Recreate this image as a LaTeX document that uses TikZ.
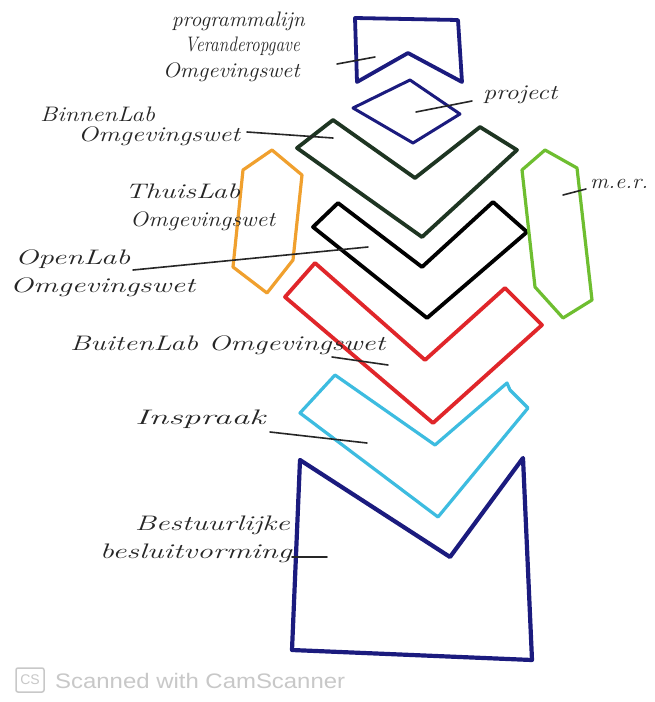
\documentclass[tikz,border=0pt]{standalone}
\usepackage{fontspec}
\usepackage{graphicx}
\newfontfamily\footfont{Liberation Sans}
\newcommand\hw[2]{\resizebox{#1}{\height}{#2}}
\definecolor{navy}{HTML}{1B1B7E}
\definecolor{dgreen}{HTML}{1E3522}
\definecolor{hred}{HTML}{E0262A}
\definecolor{lblue}{HTML}{3DBCE0}
\definecolor{horange}{HTML}{F0A02E}
\definecolor{hgreen}{HTML}{6EBE30}
\definecolor{footgray}{HTML}{C8C8C8}
\tikzset{
  outline/.style={line width=3.8pt, line join=round, line cap=round},
  lab/.style={font=\fontsize{21}{22}\selectfont\itshape, inner sep=0pt, text=black!85},
  leader/.style={line width=1.6pt, black!85, line cap=round},
}
\begin{document}
\begin{tikzpicture}[x=1pt,y=-1pt]
\useasboundingbox (0,0) rectangle (654,702);
\fill[white] (0,0) rectangle (654,702);

% shapes
\draw[outline, navy] (355,18) -- (458,20) -- (462,82) -- (408,53) -- (357,82) -- cycle;
\draw[outline, navy, line width=3pt] (353,108) -- (410,80) -- (460,114) -- (413,143) -- cycle;
\draw[outline, dgreen] (333,120) -- (415,178) -- (480,127) -- (517,150) -- (422,237) -- (297,148) -- cycle;
\draw[outline, black] (338,203) -- (422,267) -- (493,202) -- (527,232) -- (427,318) -- (313,227) -- cycle;
\draw[outline, hred] (315,263) -- (425,360) -- (505,288) -- (542,325) -- (433,423) -- (285,297) -- cycle;
\draw[outline, lblue, line width=3.2pt] (335,375) -- (435,445) -- (507,383) -- (510,390) -- (528,408) -- (438,517) -- (300,413) -- cycle;
\draw[outline, navy, line width=4.2pt] (300,460) -- (450,557) -- (523,458) -- (532,660) -- (292,650) -- cycle;
\draw[outline, horange, line width=3.2pt] (272,150) -- (302,175) -- (293,260) -- (267,293) -- (233,267) -- (243,170) -- cycle;
\draw[outline, hgreen, line width=3.2pt] (545,150) -- (577,168) -- (592,300) -- (563,318) -- (535,287) -- (522,170) -- cycle;

% labels
\node[lab, anchor=base east] (prog1) at (305,26) {\hw{133pt}{programmalijn}};
\node[lab, anchor=base east] (prog2) at (300,51) {\hw{115pt}{Veranderopgave}};
\node[lab, anchor=base east] (prog3) at (300,77) {\hw{137pt}{Omgevingswet}};
\node[lab, anchor=base west] (proj) at (483,99) {\hw{74pt}{project}};
\node[lab, anchor=base west] (bin1) at (40,121) {\hw{115pt}{BinnenLab}};
\node[lab, anchor=base west] (bin2) at (78,141) {\hw{162pt}{Omgevingswet}};
\node[lab, anchor=base west] (thuis1) at (125,198) {\hw{115pt}{ThuisLab}};
\node[lab, anchor=base west] (thuis2) at (130,226) {\hw{145pt}{Omgevingswet}};
\node[lab, anchor=base west] (open1) at (15,264) {\hw{115pt}{OpenLab}};
\node[lab, anchor=base west] (open2) at (10,292) {\hw{185pt}{Omgevingswet}};
\node[lab, anchor=base west] (buiten) at (70,350) {\hw{315pt}{BuitenLab Omgevingswet}};
\node[lab, anchor=base west] (insp) at (135,424) {\hw{130pt}{Inspraak}};
\node[lab, anchor=base east] (best1) at (290,530) {\hw{155pt}{Bestuurlijke}};
\node[lab, anchor=base east] (best2) at (292,558) {\hw{192pt}{besluitvorming}};
\node[lab, anchor=base west] (mer) at (590,188) {\hw{58pt}{m.e.r.}};

% leader lines
\coordinate (pA) at (337,64);  \coordinate (pB) at (375,57);
\coordinate (jA) at (416,112); \coordinate (jB) at (472,101);
\coordinate (bA) at (247,132); \coordinate (bB) at (333,138);
\coordinate (oA) at (133,270); \coordinate (oB) at (368,247);
\coordinate (uA) at (332,357); \coordinate (uB) at (388,365);
\coordinate (iA) at (270,432); \coordinate (iB) at (367,443);
\coordinate (sA) at (292,557); \coordinate (sB) at (327,557);
\coordinate (mA) at (563,195); \coordinate (mB) at (586,189);
\draw[leader] (pA) -- (pB);
\draw[leader] (jA) -- (jB);
\draw[leader] (bA) -- (bB);
\draw[leader] (oA) -- (oB);
\draw[leader] (uA) -- (uB);
\draw[leader] (iA) -- (iB);
\draw[leader] (sA) -- (sB);
\draw[leader] (mA) -- (mB);

% footer
\node[draw=footgray, line width=1.5pt, rounded corners=2pt, minimum width=28pt, minimum height=24pt, inner sep=0pt, text=footgray, font=\footfont\fontsize{14}{14}\selectfont] (cs) at (30,680) {CS};
\node[anchor=west, inner sep=0pt, text=footgray, font=\footfont\fontsize{21}{21}\selectfont] (scan) at (55,681) {\hw{290pt}{Scanned with CamScanner}};
\end{tikzpicture}
\end{document}
